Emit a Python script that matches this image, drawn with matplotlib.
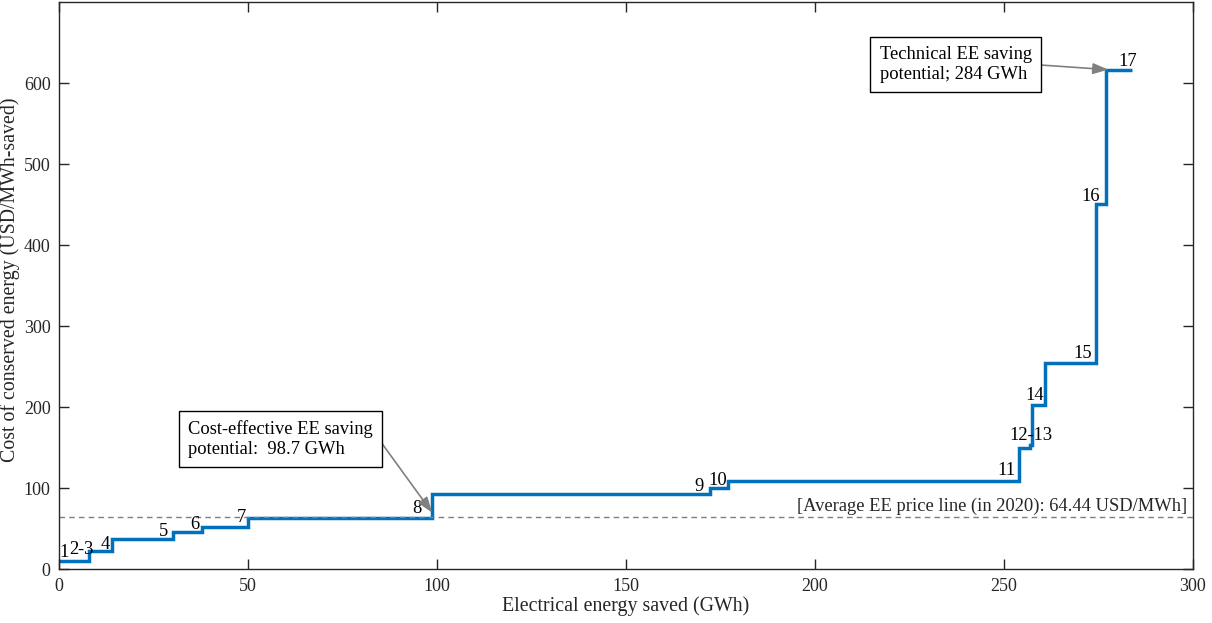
import matplotlib
matplotlib.use("Agg")
import matplotlib.pyplot as plt
import numpy as np

plt.rcParams['font.family'] = ['Liberation Serif', 'DejaVu Serif']
plt.rcParams['font.size'] = 13

# Energy-efficiency measures: cumulative savings at the end of each measure (GWh)
measure_ids = ["1", "2", "3", "4", "5", "6", "7", "8", "9", "10",
               "11", "12", "13", "14", "15", "16", "17"]
cumulative_saved = [7.9, 10.0, 14.1, 30.2, 37.8, 50.0, 98.7, 172.1, 177.0, 253.9,
                    257.0, 257.3, 257.5, 260.8, 274.4, 276.9, 284.0]
# Cost of conserved energy for each measure (USD/MWh-saved)
cost_conserved = [10.0, 22.0, 23.0, 37.3, 46.3, 52.4, 63.5, 93.5, 99.7, 109.0,
                  150.0, 153.0, 155.0, 203.0, 254.0, 450.3, 616.5]

# Labels printed next to the curve, with their anchor positions (data units)
label_texts = ["1", "2-3", "4", "5", "6", "7", "8", "9", "10", "11",
               "12-13", "14", "15", "16", "17"]
label_x = [1.3, 5.9, 12.1, 27.7, 35.9, 48.3, 94.8, 169.3, 174.3, 250.6,
           257.1, 258.0, 270.7, 272.9, 282.8]
label_y = [20.5, 25.0, 30.5, 46.3, 55.4, 63.5, 75.0, 102.5, 110.0, 122.0,
           165.0, 214.5, 265.8, 459.4, 626.6]

avg_price = 64.44
cost_effective = 98.7
technical = 284.0

x_ticks = [0, 50, 100, 150, 200, 250, 300]
y_ticks = [0, 100, 200, 300, 400, 500, 600]

axis_color = "#262626"
line_blue = "#0072BD"
text_size = 13.3

fig = plt.figure(figsize=(12.12, 6.23), dpi=100)
ax = fig.add_axes([0.0487, 0.0862, 0.9356, 0.9106])

edges = [0.0] + cumulative_saved
ax.stairs(cost_conserved, edges, baseline=None, color=line_blue, linewidth=2.5)

ax.axhline(avg_price, color="#7f7f7f", linestyle=(0, (4, 3)), linewidth=1.0, zorder=1)
ax.text(298.5, avg_price + 3, "[Average EE price line (in 2020): 64.44 USD/MWh]",
        ha="right", va="bottom", fontsize=text_size, color=axis_color)

for t, lx, ly in zip(label_texts, label_x, label_y):
    ax.text(lx, ly, t, ha="center", va="center", fontsize=text_size, color="black")

box = dict(boxstyle="square,pad=0.5", facecolor="white", edgecolor="black", linewidth=1.0)
arrow = dict(arrowstyle="-|>,head_length=0.7,head_width=0.25", color="#808080",
             linewidth=1.2, shrinkA=0, shrinkB=0)

ax.annotate("Cost-effective EE saving\npotential:  98.7 GWh",
            xy=(cost_effective, 70), xytext=(58.5, 160.7),
            ha="center", va="center", multialignment="left",
            fontsize=text_size, bbox=box,
            arrowprops=dict(arrow, relpos=(1.0, 0.73)), zorder=5)

ax.annotate("Technical EE saving\npotential; 284 GWh",
            xy=(277.6, cost_conserved[-1]), xytext=(237.2, 623.0),
            ha="center", va="center", multialignment="left",
            fontsize=text_size, bbox=box,
            arrowprops=dict(arrow, relpos=(1.0, 0.5)), zorder=5)

ax.set_xlim(0, 300)
ax.set_ylim(0, 700)
ax.set_xticks(x_ticks)
ax.set_yticks(y_ticks)
ax.tick_params(direction="in", length=7, width=1.0, top=True, right=True,
               colors=axis_color, labelsize=13, pad=6)
for s in ax.spines.values():
    s.set_color(axis_color)
    s.set_linewidth(1.0)
ax.set_xlabel("Electrical energy saved (GWh)", fontsize=14.3, color=axis_color, labelpad=1)
ax.set_ylabel("Cost of conserved energy (USD/MWh-saved)", fontsize=14.3, color=axis_color)
ax.yaxis.set_label_coords(-0.0345, 0.51)

fig.savefig("out.png", dpi=100)
